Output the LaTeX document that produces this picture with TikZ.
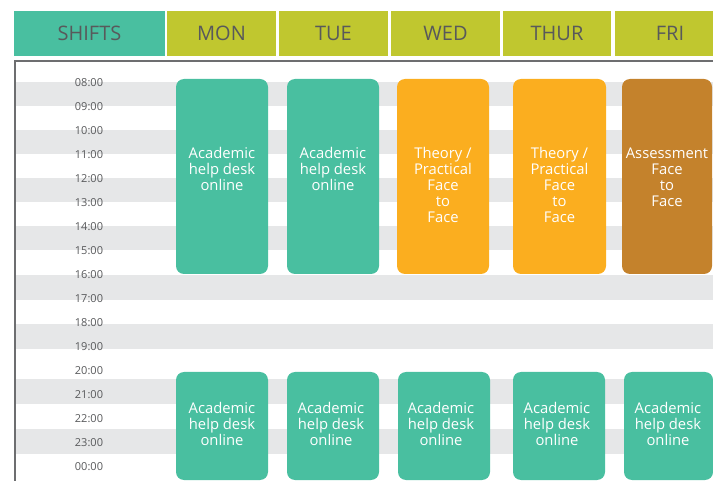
\documentclass[tikz,border=0pt]{standalone}
\usepackage{fontspec}
\setmainfont{Open Sans}
\definecolor{cTeal}{HTML}{49BFA0}
\definecolor{cLime}{HTML}{C0C72F}
\definecolor{cOrange}{HTML}{FBAE1F}
\definecolor{cBrown}{HTML}{C4822C}
\definecolor{cStripe}{HTML}{E6E7E8}
\definecolor{cFrame}{HTML}{6D6E70}
\definecolor{cText}{HTML}{58595B}
\tikzset{
  hdr/.style={inner sep=0pt, minimum height=45pt, text=cText, font=\fontsize{20}{24}\selectfont},
  slot/.style={rounded corners=8pt, inner sep=0pt, draw=none},
  slottext/.style={text=white, align=center, font=\fontsize{14.8}{16}\selectfont, inner sep=0pt},
  tlabel/.style={text=cText, font=\fontsize{11}{12}\selectfont, inner sep=0pt},
  stripe/.style={fill=cStripe, draw=none}
}
\begin{document}
\begin{tikzpicture}[x=1pt,y=-1pt]
\useasboundingbox (0,0) rectangle (713,481);
% header
\node[hdr, fill=cTeal, minimum width=151pt] (hshifts) at (89.5,33.5) {SHIFTS};
\node[hdr, fill=cLime, minimum width=109pt] (hmon) at (221.5,33.5) {MON};
\node[hdr, fill=cLime, minimum width=109pt] (htue) at (333.5,33.5) {TUE};
\node[hdr, fill=cLime, minimum width=109pt] (hwed) at (445.5,33.5) {WED};
\node[hdr, fill=cLime, minimum width=108pt] (hthu) at (557,33.5) {THUR};
\node[hdr, fill=cLime, minimum width=110pt] (hfri) at (670,33.5) {FRI};
% stripes
\foreach \y/\h in {82/24,130/24,178/24,226/24,275/25,324/25,379/25,429/25}{
  \fill[stripe] (16,\y) rectangle (713,\y+\h);
}
% frame
\draw[cFrame, line width=2pt] (15,482) -- (15,61) -- (714,61);
% time labels
\foreach \t [count=\i from 0] in {08:00,09:00,10:00,11:00,12:00,13:00,14:00,15:00,16:00,17:00,18:00,19:00,20:00,21:00,22:00,23:00,00:00}{
  \node[tlabel] (t\i) at (89,83+24*\i) {\t};
}
% top slots
\fill[slot, cTeal] (176,79) rectangle (268,274);
\fill[slot, cTeal] (287,79) rectangle (379,274);
\fill[slot, cOrange] (397,79) rectangle (489,274);
\fill[slot, cOrange] (513,79) rectangle (606,274);
\fill[slot, cBrown] (622,79) rectangle (712,274);
\node[slottext] (m1) at (222,169) {Academic\\help desk\\online};
\node[slottext] (tu1) at (333,169) {Academic\\help desk\\online};
\node[slottext] (w1) at (443,185) {Theory /\\Practical\\Face\\to\\Face};
\node[slottext] (th1) at (559.5,185) {Theory /\\Practical\\Face\\to\\Face};
\node[slottext] (f1) at (667,177) {Assessment\\Face\\to\\Face};
% bottom slots
\fill[slot, cTeal] (176,372) rectangle (268,480);
\fill[slot, cTeal] (287,372) rectangle (379,480);
\fill[slot, cTeal] (398,372) rectangle (490,480);
\fill[slot, cTeal] (513,372) rectangle (605,480);
\fill[slot, cTeal] (624,372) rectangle (713,480);
\node[slottext] (m2) at (222,424) {Academic\\help desk\\online};
\node[slottext] (tu2) at (331,424) {Academic\\help desk\\online};
\node[slottext] (w2) at (441,424) {Academic\\help desk\\online};
\node[slottext] (th2) at (557,424) {Academic\\help desk\\online};
\node[slottext] (f2) at (668,424) {Academic\\help desk\\online};
\end{tikzpicture}
\end{document}
